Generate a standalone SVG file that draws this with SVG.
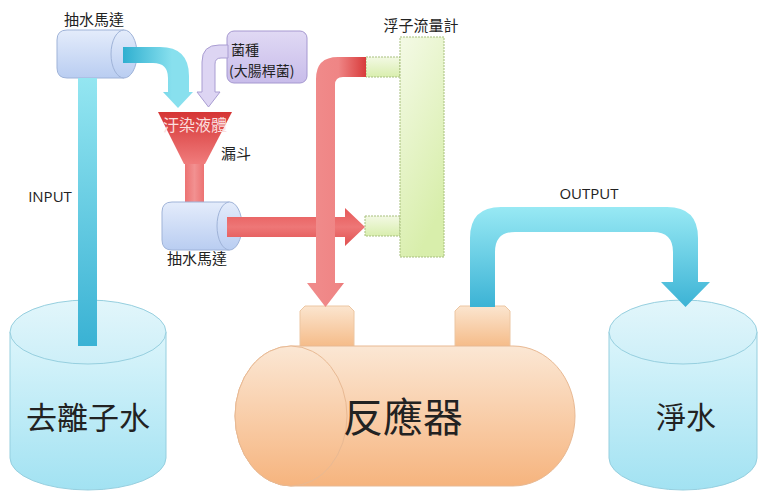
<svg xmlns="http://www.w3.org/2000/svg" width="760" height="491" viewBox="0 0 760 491">
  <defs>
    <linearGradient id="gTank" x1="0" y1="0" x2="0" y2="1">
      <stop offset="0" stop-color="#dcf5fb"/>
      <stop offset="1" stop-color="#a2e2f2"/>
    </linearGradient>
    <linearGradient id="gTankTop" x1="0" y1="0" x2="0" y2="1">
      <stop offset="0" stop-color="#e2f6fb"/>
      <stop offset="1" stop-color="#cdeff8"/>
    </linearGradient>
    <linearGradient id="gPeach" x1="0" y1="0" x2="0" y2="1">
      <stop offset="0" stop-color="#fbe7d4"/>
      <stop offset="1" stop-color="#f6b47e"/>
    </linearGradient>
    <linearGradient id="gNozzle" x1="0" y1="0" x2="0" y2="1">
      <stop offset="0" stop-color="#fbe5cf"/>
      <stop offset="1" stop-color="#f5ba86"/>
    </linearGradient>
    <linearGradient id="gPump" x1="0" y1="0" x2="0" y2="1">
      <stop offset="0" stop-color="#e4ecfb"/>
      <stop offset="1" stop-color="#b9cdf1"/>
    </linearGradient>
    <linearGradient id="gMeter" x1="0" y1="0" x2="0.4" y2="1">
      <stop offset="0" stop-color="#f4fae6"/>
      <stop offset="1" stop-color="#d8eeab"/>
    </linearGradient>
    <linearGradient id="gStub" x1="0" y1="0" x2="0" y2="1">
      <stop offset="0" stop-color="#f3f9e4"/>
      <stop offset="1" stop-color="#d9eeae"/>
    </linearGradient>
    <linearGradient id="gPurple" x1="0" y1="0" x2="0" y2="1">
      <stop offset="0" stop-color="#e0d9f4"/>
      <stop offset="1" stop-color="#c8bcea"/>
    </linearGradient>
    <linearGradient id="gFunnel" x1="0" y1="0" x2="0" y2="1">
      <stop offset="0" stop-color="#d53535"/>
      <stop offset="1" stop-color="#f07c7c"/>
    </linearGradient>
    <linearGradient id="gStem" x1="0" y1="0" x2="1" y2="0">
      <stop offset="0" stop-color="#ec7272"/>
      <stop offset="0.5" stop-color="#f29191"/>
      <stop offset="1" stop-color="#ec7272"/>
    </linearGradient>
    <linearGradient id="gInput" gradientUnits="userSpaceOnUse" x1="0" y1="78" x2="0" y2="345">
      <stop offset="0" stop-color="#94e6f1"/>
      <stop offset="1" stop-color="#3ab2d4"/>
    </linearGradient>
    <linearGradient id="gFeed" gradientUnits="userSpaceOnUse" x1="123" y1="0" x2="172" y2="0">
      <stop offset="0" stop-color="#2fafd0"/>
      <stop offset="1" stop-color="#88e0ee"/>
    </linearGradient>
    <linearGradient id="gOutput" gradientUnits="userSpaceOnUse" x1="0" y1="207" x2="0" y2="307">
      <stop offset="0" stop-color="#98e9f4"/>
      <stop offset="1" stop-color="#3cb3d5"/>
    </linearGradient>
    <linearGradient id="gRedL" gradientUnits="userSpaceOnUse" x1="316" y1="0" x2="366" y2="0">
      <stop offset="0" stop-color="#f08a8a"/>
      <stop offset="0.45" stop-color="#ef8585"/>
      <stop offset="1" stop-color="#d83b3b"/>
    </linearGradient>
    <linearGradient id="gRedH" gradientUnits="userSpaceOnUse" x1="0" y1="208" x2="0" y2="246">
      <stop offset="0" stop-color="#e65858"/>
      <stop offset="0.5" stop-color="#ee7777"/>
      <stop offset="1" stop-color="#e05050"/>
    </linearGradient>
  </defs>
  <style>
    .lbl { font-family: "Noto Sans CJK TC", "Noto Sans CJK SC", sans-serif; fill: #222; }
    .lat { font-family: "Open Sans", "Liberation Sans", sans-serif; fill: #222; font-size: 15px; }
    .tank { fill: url(#gTank); stroke: #96cfdf; stroke-width: 1; }
    .tanktop { fill: url(#gTankTop); stroke: #96cfdf; stroke-width: 1; }
    .peach { fill: url(#gPeach); stroke: #e8b993; stroke-width: 1; }
    .nozzle { fill: url(#gNozzle); stroke: #ecc6a2; stroke-width: 1; }
    .pump { fill: url(#gPump); stroke: #9fb3d8; stroke-width: 1; }
    .stub { fill: url(#gStub); stroke: #a7bf7c; stroke-width: 1; stroke-dasharray: 2 1; }
  </style>

  <!-- storage tank: deionised water -->
  <g id="tank-in">
    <path class="tank" d="M10,332 V458 A78,32 0 0 0 166,458 V332 Z"/>
    <ellipse class="tanktop" cx="88" cy="332" rx="78" ry="32"/>
    <text class="lbl" x="88" y="429" font-size="31" text-anchor="middle">去離子水</text>
  </g>

  <!-- storage tank: clean water -->
  <g id="tank-out">
    <path class="tank" d="M609,332 V458 A74,32 0 0 0 757,458 V332 Z"/>
    <ellipse class="tanktop" cx="683" cy="332" rx="74" ry="32"/>
    <text class="lbl" x="686" y="428" font-size="30" text-anchor="middle">淨水</text>
  </g>

  <!-- reactor vessel with two nozzles -->
  <g id="reactor">
    <path class="nozzle" d="M305,306 H349 L354,311 V348 H300 V311 Z"/>
    <path class="nozzle" d="M460,306 H505 L510,311 V348 H455 V311 Z"/>
    <path class="peach" d="M291,346 H513 A62,70 0 0 1 513,486 H291 A56,70 0 0 1 291,346 Z"/>
    <ellipse class="peach" cx="291" cy="416" rx="56" ry="70"/>
    <text class="lbl" x="403" y="432" font-size="40" text-anchor="middle">反應器</text>
  </g>

  <!-- float flowmeter -->
  <g id="flowmeter">
    <rect class="stub" x="366" y="57" width="34" height="20"/>
    <rect class="stub" x="365" y="216" width="35" height="20"/>
    <rect x="400" y="37" width="44" height="220" fill="url(#gMeter)" stroke="#a7bf7c" stroke-width="1" stroke-dasharray="2 1"/>
    <text class="lbl" x="421" y="31" font-size="15" text-anchor="middle">浮子流量計</text>
  </g>

  <!-- inoculum box -->
  <g id="inoculum">
    <rect x="227" y="31" width="80" height="52" rx="7" fill="url(#gPurple)" stroke="#a598d0" stroke-width="1"/>
    <text class="lbl" x="231" y="55" font-size="14">菌種</text>
    <text class="lbl" x="229" y="76" font-size="14">(大腸桿菌)</text>
  </g>

  <!-- funnel -->
  <g id="funnel">
    <rect x="185" y="163" width="19" height="43" fill="url(#gStem)"/>
    <polygon points="158,112 232,112 205,164 184,164" fill="url(#gFunnel)"/>
    <text class="lbl" x="195" y="131" font-size="16" text-anchor="middle" fill="#fbdede" style="fill:#fbdede">汙染液體</text>
    <text class="lbl" x="221" y="159" font-size="15">漏斗</text>
  </g>

  <!-- upper pump -->
  <g id="pump-top">
    <path class="pump" d="M124,30 H67 Q57,30 57,40 V68 Q57,78 67,78 H124 Z"/>
    <ellipse class="pump" cx="124" cy="54" rx="13" ry="24"/>
    <text class="lbl" x="94" y="25" font-size="15" text-anchor="middle">抽水馬達</text>
  </g>

  <!-- lower pump -->
  <g id="pump-bottom">
    <path class="pump" d="M229.5,202 H172 Q162,202 162,212 V240 Q162,250 172,250 H229.5 Z"/>
    <ellipse class="pump" cx="229.5" cy="226" rx="12.5" ry="24"/>
    <text class="lbl" x="197" y="264" font-size="15" text-anchor="middle">抽水馬達</text>
  </g>

  <!-- flow connectors -->
  <g id="connectors">
    <!-- input line from tank to upper pump -->
    <rect x="78" y="78" width="19" height="268" fill="url(#gInput)"/>
    <!-- upper pump into funnel -->
    <path d="M123,47 H160 Q189,47 189,76 V92 H193 L178,108 L163,92 H168 V78 Q168,63 153,63 H123 Z" fill="url(#gFeed)"/>
    <!-- inoculum into funnel -->
    <path d="M228,45 H219 Q202,45 202,62 V92 H197 L208.5,107 L220,92 H215 V64 Q215,58 221,58 H228 Z" fill="#ddd5f3" stroke="#a99dd2" stroke-width="1"/>
    <!-- lower pump to flowmeter -->
    <path d="M227,217 H345 V208 L365,227 L345,246 V237 H227 Z" fill="url(#gRedH)"/>
    <!-- flowmeter return into reactor -->
    <path d="M316,283 V79 Q316,57 338,57 H366 V77 H343 Q335,77 335,85 V283 H344 L325.5,307 L307,283 Z" fill="url(#gRedL)"/>
    <!-- output line to clean water tank -->
    <path d="M470,307 V238 Q470,207 501,207 H667 Q698,207 698,238 V282 H710 L685.5,307 L661,282 H673 V252 Q673,232 653,232 H515 Q495,232 495,252 V307 Z" fill="url(#gOutput)"/>
    <text class="lat" x="50" y="202" text-anchor="middle">INPUT</text>
    <text class="lat" x="589" y="199" text-anchor="middle">OUTPUT</text>
  </g>
</svg>
